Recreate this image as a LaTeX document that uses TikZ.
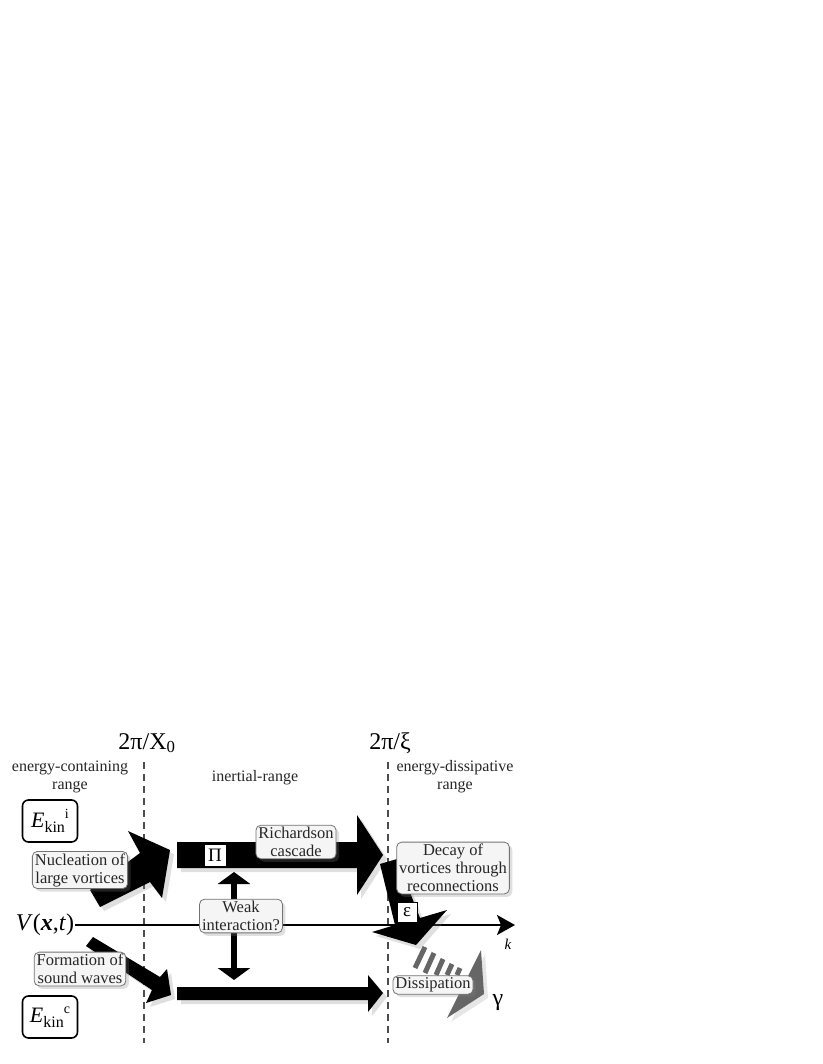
\documentclass[tikz,border=0pt]{standalone}
\usepackage{fontspec}
\setmainfont{Liberation Serif}
\usetikzlibrary{arrows.meta,shadows}
\begin{document}
\begin{tikzpicture}[x=1pt,y=-1pt,
  lbl/.style={font=\fontsize{16}{18}\selectfont, text=black!85, align=center, inner sep=0pt},
  gbox/.style={draw=black!55, fill=black!4, rounded corners=5pt, line width=0.8pt, inner xsep=2.5pt, inner ysep=2pt, align=center, font=\fontsize{16.5}{18}\selectfont, text=black!85, drop shadow={opacity=0.25, shadow xshift=3pt, shadow yshift=-3pt}},
  ebox/.style={draw, line width=1.6pt, rounded corners=6pt, fill=white, minimum width=55pt, minimum height=42pt, inner sep=0pt},
  wbox/.style={draw, line width=0.8pt, fill=white, inner sep=0pt, minimum width=22pt, minimum height=22pt, font=\fontsize{19}{19}\selectfont},
  blk/.style={fill=black, drop shadow={opacity=0.25, shadow xshift=4pt, shadow yshift=-4pt}},
  divider/.style={line width=1.8pt, black!70, dash pattern=on 7pt off 5pt},
  big/.style={font=\fontsize{24}{24}\selectfont, inner sep=0pt},
]
\useasboundingbox (0,0) rectangle (822,1064);

% headings
\node[big] (t1) at (147,743) {2π/X\textsubscript{0}};
\node[big] (t2) at (390,743) {2π/ξ};
\node[lbl] (r1) at (70,777) {energy-containing\\range};
\node[lbl] (r2) at (255,778) {inertial-range};
\node[lbl] (r3) at (455,777) {energy-dissipative\\range};

% dividers
\coordinate (d1t) at (144,762); \coordinate (d1b) at (144,1043);
\coordinate (d2t) at (388,762); \coordinate (d2b) at (388,1043);
\draw[divider] (d1t) -- (d1b);
\draw[divider] (d2t) -- (d2b);

% axis
\node[font=\fontsize{24}{24}\selectfont, inner sep=1pt] (V) at (45,925) {\textit{V}(\textbf{\textit{x}},\textit{t})};
\coordinate (kend) at (515,925);
\draw[line width=1.8pt, -{Stealth[length=18pt,width=20pt,inset=4pt]}] (V.east) -- (kend);
\node[font=\fontsize{15}{15}\selectfont\itshape] (k) at (508,944) {k};

% black arrows
\fill[blk] (90,890) -- (140,853) -- (128,831) -- (170,850) -- (162,898) -- (150,882) -- (100,907) -- cycle;
\fill[blk] (177,842) -- (357,842) -- (357,815) -- (383,855) -- (357,895) -- (357,868) -- (177,868) -- cycle;
\fill[blk] (380,864) -- (397,859) -- (420,918) -- (447,910) -- (416,945) -- (372,932) -- (395,925) -- cycle;
\fill[blk] (177,987) -- (368,987) -- (368,975) -- (383,993) -- (368,1012) -- (368,1000) -- (177,1000) -- cycle;
\fill[blk] (93,937) -- (160,977) -- (167,969) -- (171,995) -- (146,1003) -- (152,990) -- (86,946) -- cycle;

% weak interaction double arrow
\coordinate (wtop) at (234,872); \coordinate (wbot) at (234,980);
\draw[line width=6pt, {Triangle[length=12pt,width=32pt]}-{Triangle[length=12pt,width=32pt]}] (wtop) -- (wbot);

% dissipation (grey)
\begin{scope}[black!60, line width=5pt]
\draw (425,947) -- (415,968);
\draw (434,953) -- (425,973);
\draw (443,959) -- (436,975);
\draw (452,964) -- (447,975);
\draw (460,968) -- (457,975);
\end{scope}
\fill[black!60, drop shadow={opacity=0.2, shadow xshift=4pt, shadow yshift=-4pt}] (481,950) -- (484,994) -- (447,1018) -- cycle;

% boxes
\node[ebox] (Ei) at (50,821) {\fontsize{22}{22}\selectfont\textit{E}\raisebox{-5pt}{\fontsize{16}{16}\selectfont kin}\raisebox{9pt}{\fontsize{14}{14}\selectfont i}};
\node[ebox] (Ec) at (50,1017) {\fontsize{22}{22}\selectfont\textit{E}\raisebox{-5pt}{\fontsize{16}{16}\selectfont kin}\raisebox{9pt}{\fontsize{14}{14}\selectfont c}};
\node[gbox] (nuc) at (80,870) {Nucleation of\\large vortices};
\node[gbox] (form) at (80,969) {Formation of\\sound waves};
\node[gbox] (rich) at (296,842) {Richardson\\cascade};
\node[gbox] (weak) at (241,916) {Weak\\interaction?};
\node[gbox] (decay) at (453,868) {Decay of\\vortices through\\reconnections};
\node[gbox] (diss) at (433,985) {Dissipation};
\node[wbox] (Pi) at (215,855) {Π};
\node[wbox, minimum width=20pt, minimum height=20pt] (eps) at (407,912) {ε};
\node[font=\fontsize{24}{24}\selectfont] (gam) at (498,1003) {γ};
\end{tikzpicture}
\end{document}
